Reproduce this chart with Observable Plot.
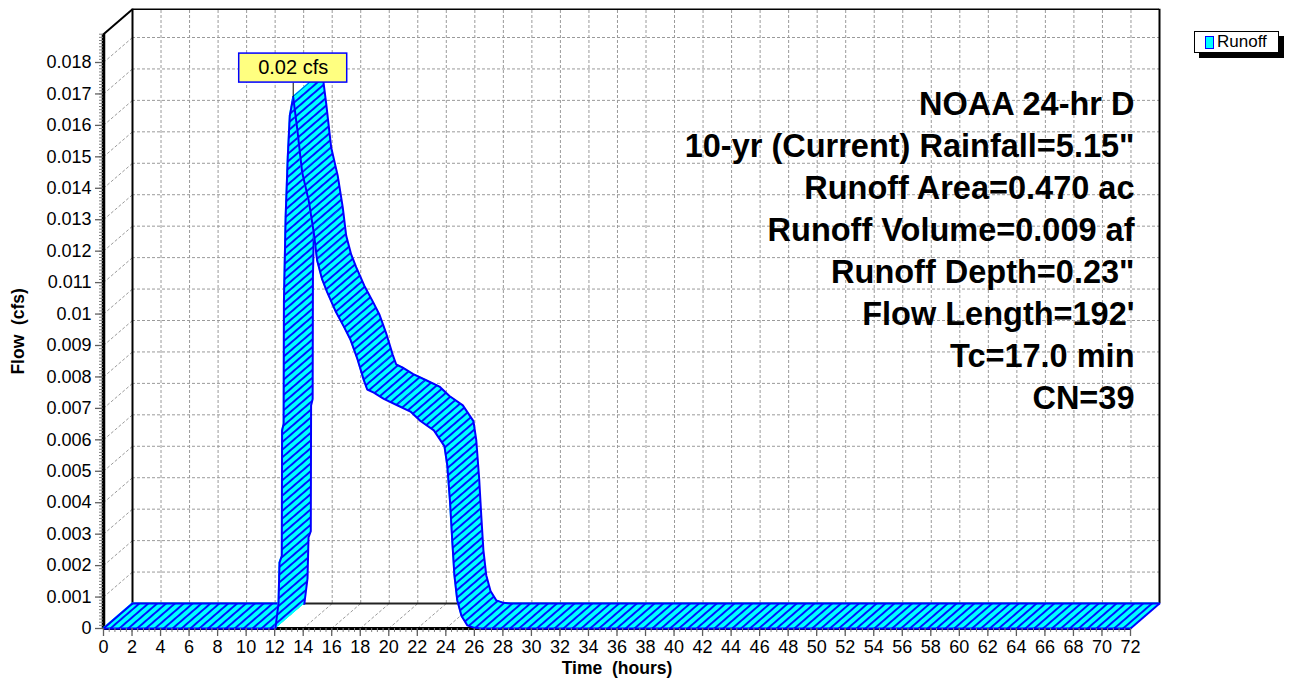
<!DOCTYPE html>
<html>
<head>
<meta charset="utf-8">
<script src="https://cdn.jsdelivr.net/npm/d3@7"></script>
<script src="https://cdn.jsdelivr.net/npm/@observablehq/plot@0.6"></script>
<style>
  html, body { margin: 0; padding: 0; background: #fff; overflow: hidden; }
  #wrap { position: relative; width: 1294px; height: 683px; }
  #legend { position: absolute; left: 1194px; top: 31px; width: 83px; height: 20px;
    border: 1px solid #000; background: #fff; box-shadow: 5px 5px 0 #000;
    font: 17px 'Liberation Sans', Arial, sans-serif; color: #000; }
  #legend .sw { position: absolute; left: 10px; top: 4px; width: 7px; height: 11px;
    background: #00ffff; border: 1px solid #0000ff; }
  #legend .lb { position: absolute; left: 22px; top: 0px; }
</style>
</head>
<body>
<div id="wrap"><div id="legend"><span class="sw"></span><span class="lb"></span></div></div>
<script>
// ---------------- data ----------------
const seriesName = "Runoff";
const hours = [0, 12.05, 12.27, 12.34, 12.5, 12.52, 12.63, 12.65, 12.77, 12.92, 13.06, 13.3,
  13.58, 13.93, 14.39, 14.74, 14.98, 15.33, 15.68, 16.26, 16.85, 17.3, 17.78, 18.25, 18.49,
  18.95, 19.65, 20.59, 21.52, 22.22, 23.16, 23.9, 24.1, 24.3, 24.45, 24.6, 24.8, 25.1, 25.5,
  26.0, 26.5, 72];
const flow = [0, 0, 0.0008, 0.0021, 0.0023, 0.0063, 0.0065, 0.0104, 0.0131, 0.0150, 0.0163, 0.0169,
  0.0159, 0.0145, 0.0136, 0.0126, 0.0117, 0.0111, 0.0107, 0.0101, 0.0096, 0.0092, 0.0086, 0.0079, 0.0076,
  0.0075, 0.0073, 0.0071, 0.0069, 0.0066, 0.0063, 0.0058, 0.0052, 0.0040, 0.0028, 0.0017, 0.0009, 0.0004, 0.0001,
  0.00002, 0, 0];
const xTicks = [0,2,4,6,8,10,12,14,16,18,20,22,24,26,28,30,32,34,36,38,40,42,44,46,48,50,52,54,56,58,60,62,64,66,68,70,72];
const yTicks = [0,0.001,0.002,0.003,0.004,0.005,0.006,0.007,0.008,0.009,0.01,0.011,0.012,0.013,0.014,0.015,0.016,0.017,0.018];
const peakLabel = "0.02 cfs";
const infoLines = ["NOAA 24-hr D", "10-yr (Current) Rainfall=5.15\"", "Runoff Area=0.470 ac",
  "Runoff Volume=0.009 af", "Runoff Depth=0.23\"", "Flow Length=192'", "Tc=17.0 min", "CN=39"];
const xTitle = "Time\u00a0 (hours)";
const yTitle = "Flow\u00a0 (cfs)";

// ---------------- layout ----------------
const W = 1294, H = 683, mL = 103, mR = 164, mT = 62, mB = 55;
const X_MAX = 72, Y_MAX = 0.018, Y_TOP = 0.0189;
const DEPTH_X = 29, DEPTH_Y = 25;                 // 3-D depth in px
const OFF_T = DEPTH_X * X_MAX / (W - mL - mR);     // depth in data units
const OFF_Q = DEPTH_Y * Y_MAX / (H - mT - mB);
const CYAN = "#00ffff", BLUE = "#0000ff", GRID = "#9a9a9a";
const FONT = "'Liberation Sans', Arial, Helvetica, sans-serif";

const pts = hours.map((t, i) => ({t, q: flow[i]}));
const iPeak = flow.indexOf(d3.max(flow));
const iRise = 1;
const peak = pts[iPeak];

const bx = d => d.t + OFF_T, by = d => d.q + OFF_Q;

function ribbon(i0, i1) {
  const seg = [];
  for (let i = i0; i < i1; i++) seg.push({...pts[i], s: i}, {...pts[i + 1], s: i});
  const line = pts.slice(i0, i1 + 1);
  const ax = {x1: "t", y1: "q", x2: bx, y2: by, z: "s", curve: "linear"};
  return [
    Plot.area(seg, {...ax, fill: CYAN, stroke: CYAN, strokeWidth: 1}),
    Plot.area(seg, {...ax, fill: "url(#hatch)"}),
    Plot.line(line, {x: "t", y: "q", stroke: BLUE, strokeWidth: 2}),
    Plot.line(line, {x: bx, y: by, stroke: BLUE, strokeWidth: 2})
  ];
}

const gridY = yTicks.filter(v => v > 0);
const gridX = xTicks.filter(v => v > 0 && v < X_MAX);
const minorY = d3.range(0, 0.01891, 0.0001);
const minorX = d3.range(0, 72.01, 0.4);
const dash = {stroke: GRID, strokeDasharray: "3,2", strokeWidth: 1};

const svg = Plot.plot({
  width: W, height: H,
  marginLeft: mL, marginRight: mR, marginTop: mT, marginBottom: mB,
  x: {domain: [0, X_MAX], label: null},
  y: {domain: [0, Y_MAX], label: null},
  style: {fontFamily: FONT, fontSize: "18px", background: "white", color: "black", overflow: "visible"},
  marks: [
    // back wall grid
    Plot.ruleY(gridY, {y: v => v + OFF_Q, x1: OFF_T, x2: X_MAX + OFF_T, ...dash}),
    Plot.ruleX(gridX, {x: v => v + OFF_T, y1: OFF_Q, y2: Y_TOP + OFF_Q, ...dash}),
    // side wall and floor diagonals
    Plot.link(gridY, {x1: 0, y1: v => v, x2: OFF_T, y2: v => v + OFF_Q, ...dash}),
    Plot.link(gridX, {x1: v => v, y1: 0, x2: v => v + OFF_T, y2: OFF_Q, ...dash}),
    // back frame
    Plot.ruleY([OFF_Q], {y: v => v, x1: OFF_T, x2: X_MAX + OFF_T, stroke: "#222", strokeWidth: 2}),
    Plot.ruleY([Y_TOP + OFF_Q], {y: v => v, x1: OFF_T, x2: X_MAX + OFF_T, stroke: "#000", strokeWidth: 1.5}),
    Plot.ruleX([OFF_T, X_MAX + OFF_T], {x: v => v, y1: OFF_Q, y2: Y_TOP + OFF_Q, stroke: "#000", strokeWidth: 2}),
    Plot.link([0], {x1: 0, y1: Y_TOP, x2: OFF_T, y2: Y_TOP + OFF_Q, stroke: "#000", strokeWidth: 2}),
    // front axes
    Plot.ruleY([0], {x1: 0, x2: X_MAX, stroke: "#000", strokeWidth: 3}),
    Plot.ruleX([0], {y1: 0, y2: Y_TOP, stroke: "#000", strokeWidth: 3.5}),
    // 3-D ribbon hydrograph
    ...ribbon(0, iRise),
    ...ribbon(iRise, iPeak),
    ...ribbon(iPeak, pts.length - 1),
    Plot.link([pts[0], pts[pts.length - 1]], {x1: "t", y1: "q", x2: bx, y2: by, stroke: BLUE, strokeWidth: 2}),
    // ticks and labels
    Plot.axisY(minorY, {anchor: "left", tickSize: 4, tickFormat: () => "", stroke: "#808080", label: null}),
    Plot.axisY(yTicks, {anchor: "left", tickSize: 8, tickPadding: 4, tickFormat: d3.format("~g"), stroke: "#606060", strokeWidth: 1.3, label: null}),
    Plot.axisX(minorX, {anchor: "bottom", tickSize: 4, tickFormat: () => "", stroke: "#808080", label: null}),
    Plot.axisX(xTicks, {anchor: "bottom", tickSize: 8, tickPadding: 4, tickFormat: d3.format("d"), stroke: "#606060", strokeWidth: 1.3, label: null}),
    // peak label
    Plot.ruleX([peak], {x: "t", y1: "q", y2: "q", insetBottom: 14, stroke: "#000", strokeWidth: 1}),
    Plot.rect([peak], {x1: "t", x2: "t", y1: "q", y2: "q", insetLeft: -54, insetRight: -54,
      insetTop: -14.5, insetBottom: -14.5, dy: -29, fill: "#ffff80", stroke: BLUE, strokeWidth: 1.5}),
    Plot.text([peak], {x: "t", y: "q", text: () => peakLabel, dy: -29, fontSize: 20, fill: "#000"}),
    // info block
    Plot.text([infoLines.join("\n")], {text: d => d, frameAnchor: "top-right", textAnchor: "end",
      lineAnchor: "top", lineHeight: 1.29, fontSize: 32.5, fontWeight: "bold", dx: 4, dy: 23, fill: "#000"}),
    // axis titles
    Plot.text([xTitle], {text: d => d, frameAnchor: "bottom", dy: 45, fontSize: 17.5, fontWeight: "bold", fill: "#000"}),
    Plot.text([yTitle], {text: d => d, x: 0, y: Y_TOP / 2, dx: -85, rotate: -90, fontSize: 17.5, fontWeight: "bold", fill: "#000"})
  ]
});

// hatch pattern (lines parallel to the depth direction)
const ang = -Math.atan2(DEPTH_Y, DEPTH_X) * 180 / Math.PI;
const defs = d3.select(svg).insert("defs", ":first-child");
const pat = defs.append("pattern").attr("id", "hatch").attr("patternUnits", "userSpaceOnUse")
  .attr("width", 20).attr("height", 5.8).attr("patternTransform", `rotate(${ang})`);
pat.append("path").attr("d", "M-1,2.9H21").attr("stroke", BLUE).attr("stroke-width", 1.8);

const wrap = document.getElementById("wrap");
wrap.prepend(svg);
document.querySelector("#legend .lb").textContent = seriesName;
</script>
</body>
</html>
